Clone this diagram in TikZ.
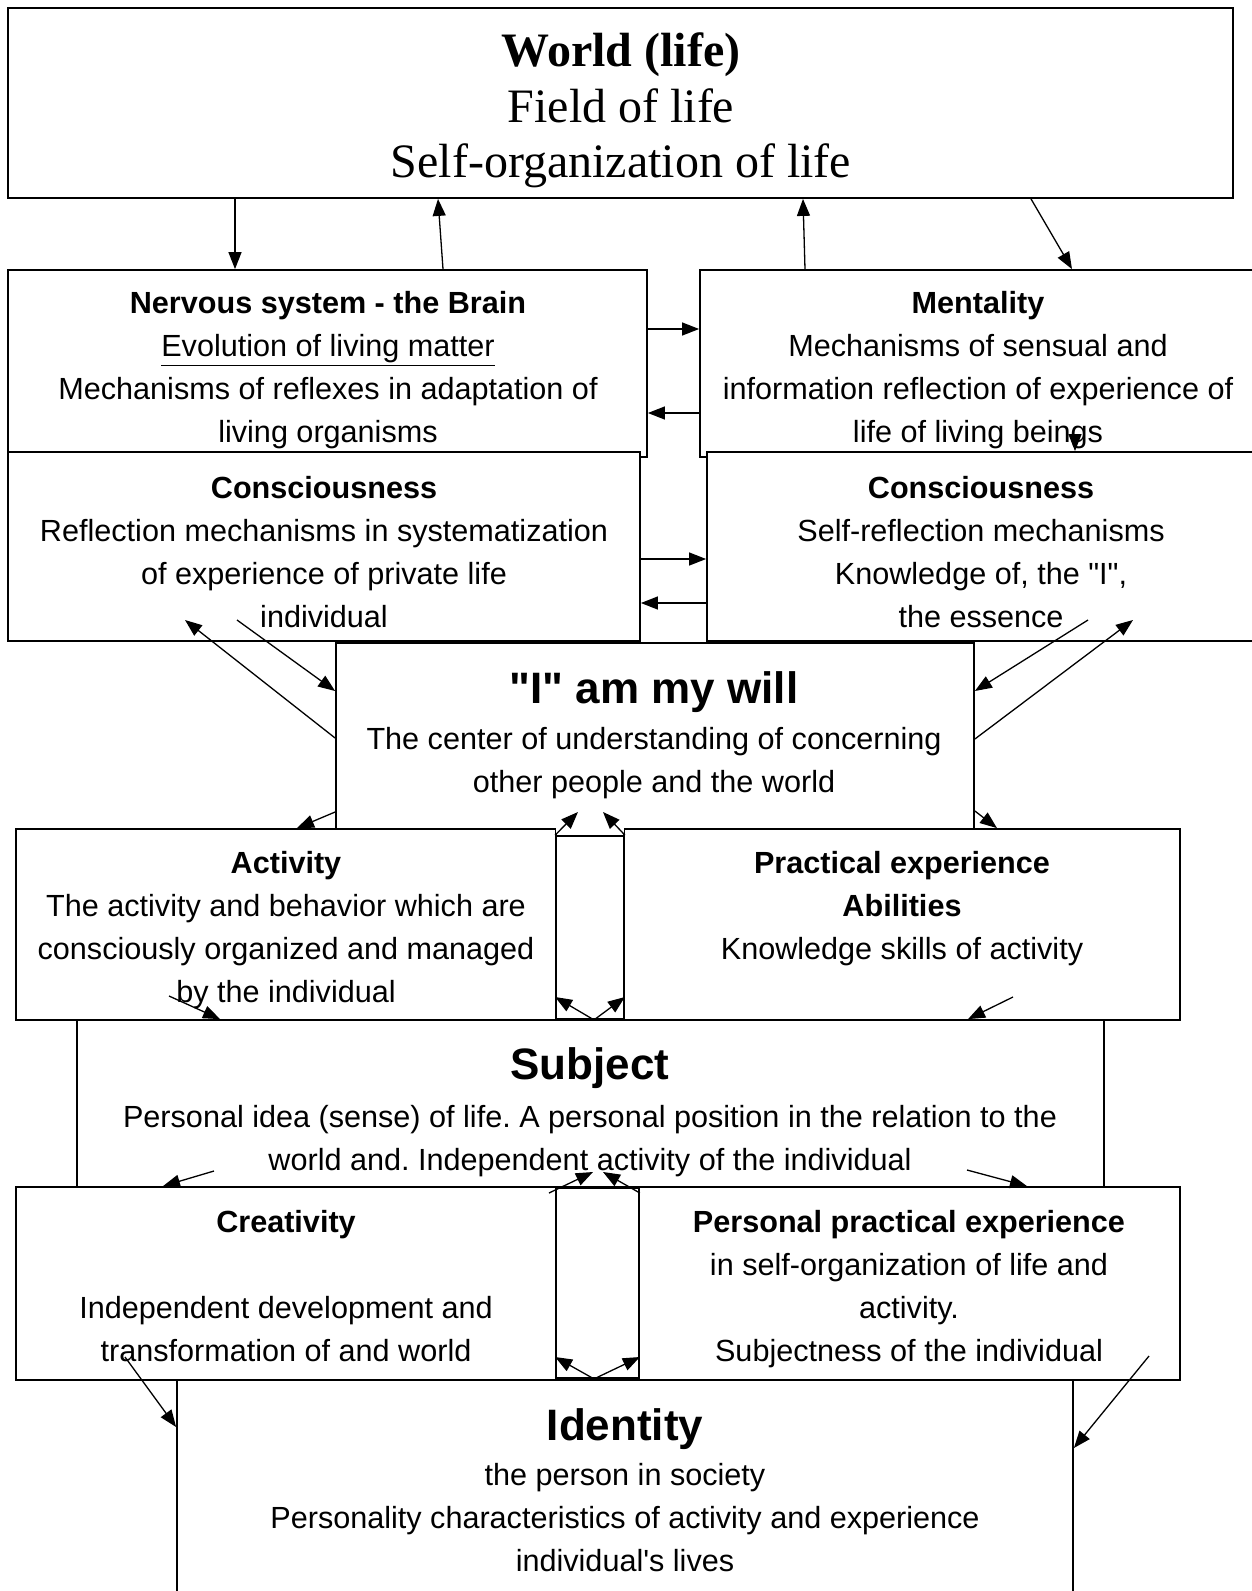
\documentclass[tikz,border=0pt]{standalone}
\usepackage{fontspec}
\setmainfont{Liberation Serif}
\setsansfont{Liberation Sans}
\frenchspacing
\usetikzlibrary{arrows.meta,calc,positioning,fit}
\tikzset{
  box/.style  = {draw, line width=0.9pt, fill=white, inner sep=0pt},
  txt/.style  = {inner sep=0pt, align=center, anchor=north,
                 font=\sffamily\fontsize{15.3}{21.5}\selectfont},
  ttl/.style  = {inner sep=0pt, anchor=north,
                 font=\sffamily\bfseries\fontsize{22}{26}\selectfont},
  arr/.style  = {-{Triangle[length=8.5pt,width=6.5pt]}, line width=0.65pt},
}

\begin{document}
\begin{tikzpicture}[x=0.5pt,y=-0.5pt]
  \useasboundingbox (0,0) rectangle (1252,1591);
  \clip (0,0) rectangle (1252,1591);
  % world
  \node[box, fit={(8,8) (1233,198)}] (world) {};
  \node[inner sep=0pt, anchor=north, align=center,
        font=\rmfamily\fontsize{24}{27.9}\selectfont] (world-t) at (621,32)
    {\textbf{World (life)}\\Field of life\\Self-organization of life};
  % brain and mentality
  \node[box, fit={(8,270) (647,457)}] (nerv) {};
  \node[txt] (nerv-t) at (328,291) {\textbf{Nervous system - the Brain}\\
    \underline{Evolution of living matter}\\
    Mechanisms of reflexes in adaptation of\\living organisms};
  \node[box, fit={(700,270) (1262,457)}] (ment) {};
  \node[txt] (ment-t) at (978,291) {\textbf{Mentality}\\Mechanisms of sensual and\\
    information reflection of experience of\\life of living beings};
  % consciousness
  \node[box, fit={(8,452) (640,641)}] (consl) {};
  \node[txt] (consl-t) at (324,476) {\textbf{Consciousness}\\
    Reflection mechanisms in systematization\\of experience of private life\\individual};
  \node[box, fit={(707,452) (1262,641)}] (consr) {};
  \node[txt] (consr-t) at (981,476) {\textbf{Consciousness}\\Self-reflection mechanisms\\
    Knowledge of, the \textquotedbl I\textquotedbl,\\the essence};
  % "I"
  \node[box, fit={(336,643) (974,829)}] (will) {};
  \node[ttl] (will-t) at (654,671) {\textquotedbl I\textquotedbl{} am my will};
  \node[txt] (will-b) at (654,727) {The center of understanding of concerning\\
    other people and the world};
  % activity row
  \node[box, fit={(16,829) (556,1020)}] (act) {};
  \node[txt] (act-t) at (286,851) {\textbf{Activity}\\The activity and behavior which are\\
    consciously organized and managed\\by the individual};
  \node[box, fit={(624,829) (1180,1020)}] (prac) {};
  \node[txt] (prac-t) at (902,851) {\textbf{Practical experience}\\\textbf{Abilities}\\
    Knowledge skills of activity};
  \node[box, fit={(556,836) (624,1019)}] (midA) {};
  \fill[white] ([xshift=0.6pt,yshift=4.5pt]midA.north west)
    rectangle ([xshift=-0.6pt,yshift=0.5pt]midA.north east);
  % subject
  \node[box, fit={(77,1020) (1104,1187)}] (subj) {};
  \node[ttl] (subj-t) at (590,1047) {Subject};
  \node[txt] (subj-b) at (590,1105) {Personal idea (sense) of life. A personal position in the relation to the\\
    world and. Independent activity of the individual};
  % creativity row
  \node[box, fit={(16,1187) (556,1380)}] (crea) {};
  \node[txt] (crea-t) at (286,1210) {\textbf{Creativity}\\[21.5pt]
    Independent development and\\transformation of and world};
  \node[box, fit={(639,1187) (1180,1380)}] (pers) {};
  \node[txt] (pers-t) at (909,1210) {\textbf{Personal practical experience}\\
    in self-organization of life and\\activity.\\Subjectness of the individual};
  \node[box, fit={(556,1188) (639,1378)}] (midB) {};
  % identity
  \node[box, fit={(177,1380) (1073,1620)}] (ident) {};
  \node[ttl] (ident-t) at (625,1408) {Identity};
  \node[txt] (ident-b) at (625,1463) {the person in society\\
    Personality characteristics of activity and experience\\
    individual\textquotesingle s lives};

  % free ends
  \coordinate (m1) at (1075,436);
  \coordinate (cl1) at (185,620);
  \coordinate (cl2) at (237,620);
  \coordinate (cr1) at (1088,620);
  \coordinate (cr2) at (1133,620);
  \coordinate (wa1) at (578,812);
  \coordinate (wa2) at (603,812);
  \coordinate (a1) at (169,996);
  \coordinate (p1) at (1013,997);
  \coordinate (s1) at (214,1171);
  \coordinate (s2) at (967,1170);
  \coordinate (sb0) at (549,1193);
  \coordinate (sb1) at (593,1172);
  \coordinate (sb2) at (603,1172);
  \coordinate (c1) at (125,1357);
  \coordinate (q1) at (1149,1356);

  % connectors
  \draw[arr] (235,0 |- world.south) -- (235,0 |- nerv.north);
  \draw[arr] (443,0 |- nerv.north) -- (438,0 |- world.south);
  \draw[arr] (805,0 |- ment.north) -- (803,0 |- world.south);
  \draw[arr] (1031,0 |- world.south) -- (1072,0 |- ment.north);
  \draw[arr] (nerv.east |- 0,329) -- (ment.west |- 0,329);
  \draw[arr] (ment.west |- 0,413) -- (nerv.east |- 0,413);
  \draw[arr] (m1) -- (1075,0 |- consr.north);
  \draw[arr] (consl.east |- 0,559) -- (consr.west |- 0,559);
  \draw[arr] (consr.west |- 0,603) -- (consl.east |- 0,603);
  \draw[arr] (will.west |- 0,738) -- (cl1);
  \draw[arr] (cl2) -- (will.west |- 0,691);
  \draw[arr] (will.west |- 0,812) -- (297,0 |- act.north);
  \draw[arr] (cr1) -- (will.east |- 0,691);
  \draw[arr] (will.east |- 0,739) -- (cr2);
  \draw[arr] (will.east |- 0,811) -- (997,0 |- prac.north);
  \draw[arr] (midA.north west) -- (wa1);
  \draw[arr] (midA.north east) -- (wa2);
  \draw[arr] (594,0 |- midA.south) -- (midA.west |- 0,997);
  \draw[arr] (594,0 |- midA.south) -- (midA.east |- 0,997);
  \draw[arr] (a1) -- (220,0 |- subj.north);
  \draw[arr] (p1) -- (968,0 |- subj.north);
  \draw[arr] (s1) -- (163,0 |- crea.north);
  \draw[arr] (s2) -- (1027,0 |- pers.north);
  \draw[arr] (sb0) -- (sb1);
  \draw[arr] (midB.east |- 0,1193) -- (sb2);
  \draw[arr] (594,0 |- midB.south) -- (midB.west |- 0,1357);
  \draw[arr] (594,0 |- midB.south) -- (midB.east |- 0,1357);
  \draw[arr] (c1) -- (ident.west |- 0,1427);
  \draw[arr] (q1) -- (ident.east |- 0,1448);
\end{tikzpicture}
\end{document}
